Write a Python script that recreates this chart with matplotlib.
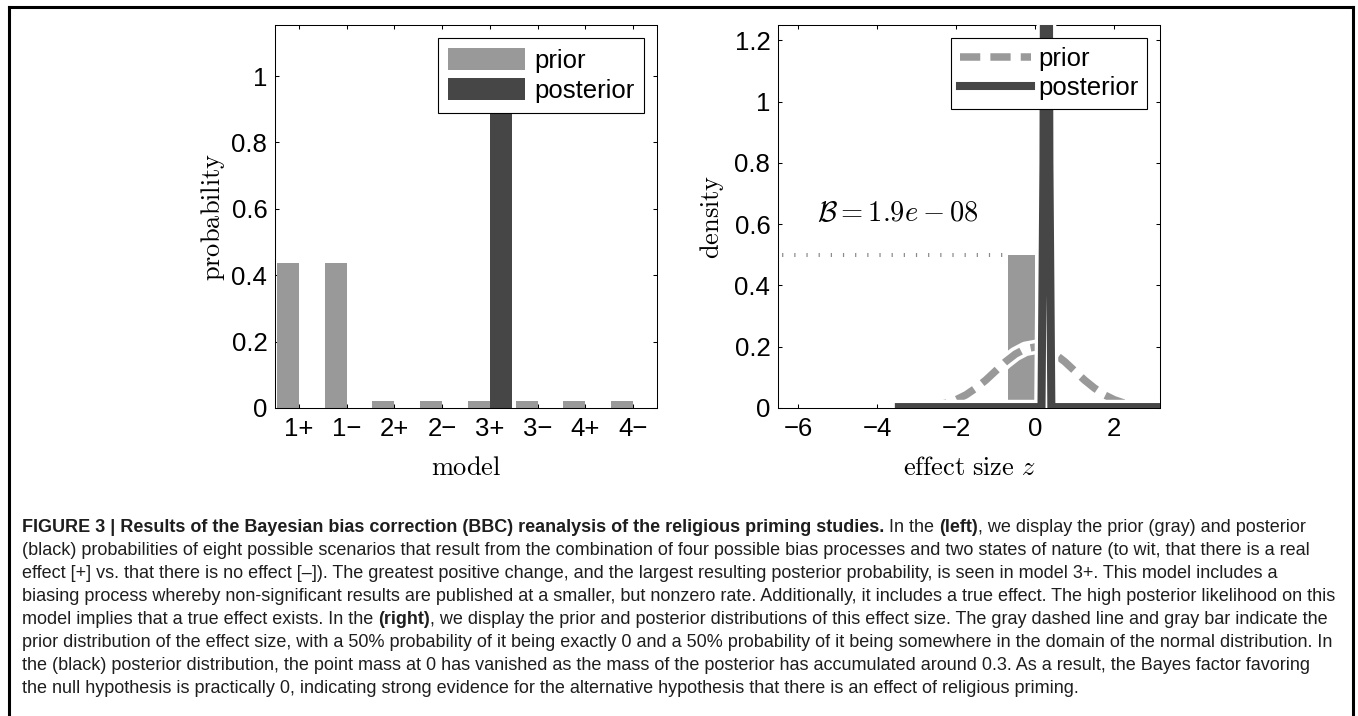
import matplotlib
matplotlib.use("Agg")
import matplotlib.pyplot as plt
from matplotlib.lines import Line2D
import numpy as np

# ---------------- data ----------------
models = ["1+", "1\u2212", "2+", "2\u2212", "3+", "3\u2212", "4+", "4\u2212"]
prior_prob = [0.4375, 0.4375, 0.0208, 0.0208, 0.0208, 0.0208, 0.0208, 0.0208]
post_prob = [0.0, 0.0, 0.0, 0.0, 0.995, 0.0, 0.0, 0.0]

prior_z = [-3.5, -3.25, -3.0, -2.75, -2.5, -2.25, -2.0, -1.75, -1.5, -1.25, -1.0, -0.75,
           -0.5, -0.25, 0.0, 0.25, 0.5, 0.75, 1.0, 1.25, 1.5, 1.75, 2.0, 2.25, 2.5,
           2.75, 3.0, 3.25, 3.5]
prior_dens = [0.0004, 0.001, 0.0022, 0.0045, 0.0088, 0.016, 0.027, 0.043, 0.065, 0.091,
              0.121, 0.151, 0.176, 0.193, 0.199, 0.193, 0.176, 0.151, 0.121, 0.091,
              0.065, 0.043, 0.027, 0.016, 0.0088, 0.0045, 0.0022, 0.001, 0.0004]
post_z = [-3.45, 0.16, 0.21, 0.26, 0.31, 0.36, 0.41, 3.4]
post_dens = [0.003, 0.003, 0.8, 3.2, 3.2, 0.8, 0.003, 0.003]
spike_left = -0.70     # prior point-mass bar
spike_right = 0.0
spike_height = 0.5
bayes_text = r"$\mathcal{B} = 1.9e-08$"

caption_lines = [
    [("FIGURE 3 | Results of the Bayesian bias correction (BBC) reanalysis of the religious priming studies.", True),
     ("In the", False), ("(left)", True, False), (", we display the prior (gray) and posterior", False)],
    [("(black) probabilities of eight possible scenarios that result from the combination of four possible bias processes and two states of nature (to wit, that there is a real", False)],
    [("effect [+] vs. that there is no effect [\u2013]). The greatest positive change, and the largest resulting posterior probability, is seen in model 3+. This model includes a", False)],
    [("biasing process whereby non-significant results are published at a smaller, but nonzero rate. Additionally, it includes a true effect. The high posterior likelihood on this", False)],
    [("model implies that a true effect exists. In the", False), ("(right)", True, False),
     (", we display the prior and posterior distributions of this effect size. The gray dashed line and gray bar indicate the", False)],
    [("prior distribution of the effect size, with a 50% probability of it being exactly 0 and a 50% probability of it being somewhere in the domain of the normal distribution. In", False)],
    [("the (black) posterior distribution, the point mass at 0 has vanished as the mass of the posterior has accumulated around 0.3. As a result, the Bayes factor favoring", False)],
    [("the null hypothesis is practically 0, indicating strong evidence for the alternative hypothesis that there is an effect of religious priming.", False)],
]

# ---------------- style ----------------
W, H = 1358, 716
plt.rcParams["mathtext.fontset"] = "cm"
plt.rcParams["font.family"] = ["Liberation Sans", "DejaVu Sans"]
LIGHT = "#999999"
DARK = "#464646"
FS_TICK = 18.5
FS_LAB = 19

fig = plt.figure(figsize=(W / 100, H / 100), dpi=100)


def px_axes(x0, y0, x1, y1):
    return fig.add_axes([x0 / W, 1 - y1 / H, (x1 - x0) / W, (y1 - y0) / H])


def style_axes(ax):
    ax.tick_params(direction="in", top=True, right=True, length=2.8, width=0.75,
                   labelsize=FS_TICK, pad=5.5)
    ax.tick_params(axis="x", pad=6.5)
    for s in ax.spines.values():
        s.set_linewidth(0.75)
        s.set_color("black")


# ---------------- left panel ----------------
ax1 = px_axes(275, 25, 657, 408)
x = np.arange(1, len(models) + 1)
w = 0.46
b1 = ax1.bar(x - w / 2, prior_prob, width=w, color=LIGHT, label="prior", zorder=2)
b2 = ax1.bar(x + w / 2, post_prob, width=w, color=DARK, label="posterior", zorder=2)
ax1.set_xlim(0.5, 8.5)
ax1.set_ylim(0, 1.154)
ax1.set_xticks(x)
ax1.set_xticklabels(models)
ax1.set_yticks([0, 0.2, 0.4, 0.6, 0.8, 1.0])
ax1.set_yticklabels(["0", "0.2", "0.4", "0.6", "0.8", "1"])
style_axes(ax1)
ax1.set_ylabel(r"$\mathrm{probability}$", fontsize=FS_LAB)
ax1.set_xlabel(r"$\mathrm{model}$", fontsize=FS_LAB)
ax1.yaxis.set_label_coords(-0.125, 0.5)
ax1.xaxis.set_label_coords(0.5, -0.125)
leg1 = ax1.legend(loc="upper right", fontsize=FS_TICK, handlelength=3.0, handleheight=0.95,
                  handletextpad=0.35, labelspacing=0.22, borderpad=0.38, borderaxespad=0.5,
                  fancybox=False, framealpha=1, edgecolor="black")
leg1.get_frame().set_linewidth(0.8)
leg1.set_zorder(10)

# ---------------- right panel ----------------
ax2 = px_axes(778, 25, 1160, 408)
xl = (-6.51, 3.16)
ax2.set_xlim(*xl)
ax2.set_ylim(0, 1.25)
# dotted level of point mass
ax2.plot([xl[0], spike_left], [spike_height, spike_height], color="#8a8a8a", lw=2.9,
         linestyle=(2.0, (0.3, 2.72)), dash_capstyle="butt", zorder=1)
ax2.bar([spike_left], [spike_height], width=spike_right - spike_left, align="edge",
        color=LIGHT, zorder=2)
ax2.plot(prior_z, prior_dens, color="white", lw=10.5, solid_capstyle="butt", zorder=3)
lp, = ax2.plot(prior_z, prior_dens, color=LIGHT, lw=5.4, linestyle=(0, (2.7, 1.35)),
               dash_capstyle="butt", zorder=4, label="prior")
ax2.plot(post_z, post_dens, color="white", lw=10.5, solid_joinstyle="miter", zorder=5)
lq, = ax2.plot(post_z, post_dens, color=DARK, lw=5.8, solid_joinstyle="miter", zorder=6,
               label="posterior")
ax2.text(-5.53, 0.634, bayes_text, fontsize=20.5, ha="left", va="center")
ax2.set_xticks([-6, -4, -2, 0, 2])
ax2.set_xticklabels(["\u22126", "\u22124", "\u22122", "0", "2"])
ax2.set_yticks([0, 0.2, 0.4, 0.6, 0.8, 1.0, 1.2])
ax2.set_yticklabels(["0", "0.2", "0.4", "0.6", "0.8", "1", "1.2"])
style_axes(ax2)
ax2.set_ylabel(r"$\mathrm{density}$", fontsize=FS_LAB)
ax2.set_xlabel(r"$\mathrm{effect\ size}\ z$", fontsize=FS_LAB)
ax2.yaxis.set_label_coords(-0.136, 0.5)
ax2.xaxis.set_label_coords(0.5, -0.125)
leg2 = ax2.legend(handles=[lp, lq], loc="upper right", fontsize=FS_TICK, handlelength=2.8,
                  handletextpad=0.25, labelspacing=0.22, borderpad=0.35, borderaxespad=0.5,
                  fancybox=False, framealpha=1, edgecolor="black")
leg2.get_frame().set_linewidth(0.8)
leg2.set_zorder(10)

# ---------------- frame ----------------
fr = dict(color="black", lw=2.2, transform=fig.transFigure, solid_capstyle="projecting")
fig.add_artist(Line2D([9 / W, 1353 / W], [1 - 7 / H, 1 - 7 / H], **fr))
fig.add_artist(Line2D([9 / W, 9 / W], [1 - 7 / H, -0.01], **fr))
fig.add_artist(Line2D([1353 / W, 1353 / W], [1 - 7 / H, -0.01], **fr))

# ---------------- caption ----------------
renderer = fig.canvas.get_renderer()
CAP_FAM = ["Liberation Sans", "DejaVu Sans"]
CAP_COL = "#1e1e1e"


def text_w(s, fs, bold):
    t = fig.text(0, 0, s, fontsize=fs, fontweight="bold" if bold else "normal", family=CAP_FAM)
    wpx = t.get_window_extent(renderer).width
    t.remove()
    return wpx


fs0 = 12.0
w0 = text_w(caption_lines[1][0][0], fs0, False)
FS_CAP = fs0 * 1294.0 / w0
sp_reg = text_w("x x", FS_CAP, False) - text_w("xx", FS_CAP, False)
sp_bold = text_w("x x", FS_CAP, True) - text_w("xx", FS_CAP, True)

x_left = 22
baseline0 = 532
step = 23.0
for i, line in enumerate(caption_lines):
    xp = x_left
    yb = baseline0 + i * step
    for j, seg in enumerate(line):
        s, bold = seg[0], seg[1]
        t = fig.text(xp / W, 1 - yb / H, s, fontsize=FS_CAP, family=CAP_FAM,
                     fontweight="bold" if bold else "normal", ha="left", va="baseline",
                     color=CAP_COL)
        xp += t.get_window_extent(renderer).width
        if j + 1 < len(line):
            nxt = line[j + 1][0]
            if not nxt.startswith(","):
                xp += sp_bold if bold else sp_reg

fig.savefig("out.png", dpi=100)
